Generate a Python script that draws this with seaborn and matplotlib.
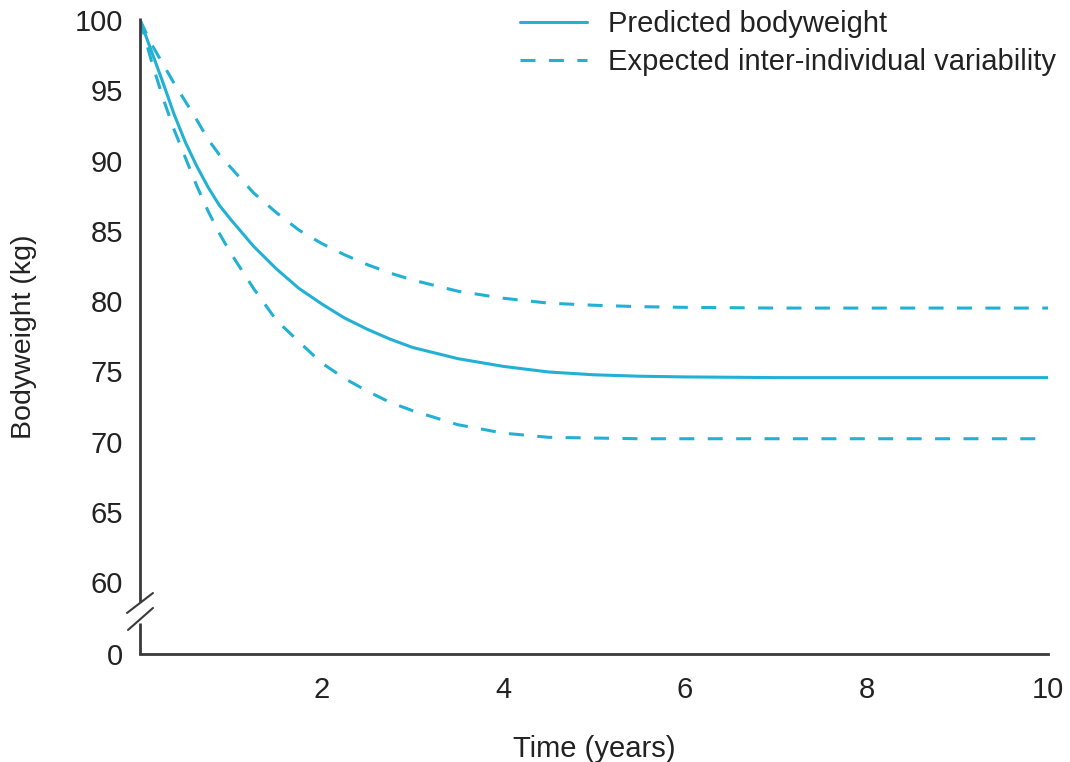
import numpy as np
import pandas as pd
import matplotlib
matplotlib.use("Agg")
import matplotlib.pyplot as plt
import seaborn as sns

# ---- data ----
time_years = [0, 0.125, 0.25, 0.375, 0.5, 0.625, 0.75, 0.875, 1.0, 1.25, 1.5, 1.75,
              2.0, 2.25, 2.5, 2.75, 3.0, 3.5, 4.0, 4.5, 5.0, 5.5, 6.0, 7.0, 8.0, 9.0, 10.0]
predicted = [100, 97.8, 95.6, 93.3, 91.3, 89.6, 88.1, 86.8, 85.8, 83.9, 82.3, 80.9,
             79.8, 78.8, 78.0, 77.3, 76.7, 75.9, 75.35, 74.95, 74.75, 74.65, 74.6, 74.55, 74.55, 74.55, 74.55]
upper_var = [100, 98.3, 96.9, 95.5, 94.2, 92.9, 91.5, 90.4, 89.5, 87.7, 86.3, 85.05,
             84.1, 83.3, 82.6, 82.0, 81.5, 80.7, 80.2, 79.85, 79.7, 79.6, 79.55, 79.5, 79.5, 79.5, 79.5]
lower_var = [100, 97.1, 94.5, 92.2, 90.2, 88.2, 86.4, 84.8, 83.4, 80.9, 78.65, 77.1,
             75.6, 74.5, 73.6, 72.8, 72.2, 71.2, 70.6, 70.3, 70.25, 70.2, 70.2, 70.2, 70.2, 70.2, 70.2]
x_ticks = [2, 4, 6, 8, 10]
y_ticks = [0, 60, 65, 70, 75, 80, 85, 90, 95, 100]
legend_labels = ["Predicted bodyweight", "Expected inter-individual variability"]
x_label = "Time (years)"
y_label = "Bodyweight (kg)"

df = pd.DataFrame({"t": time_years, "pred": predicted, "up": upper_var, "low": lower_var})

sns.set_theme(style="white")
plt.rcParams["font.family"] = ["Liberation Sans", "DejaVu Sans"]

CYAN = "#22B0D4"
AXC = "#3a3a3a"
TXT = "#222222"
LW = 2.2
DASH = (4.9, 4.4)

fig = plt.figure(figsize=(10.7, 7.62), dpi=100)
ax = fig.add_axes([140 / 1070, 1 - 654 / 762, 908 / 1070, 634 / 762])

# broken y axis: 0..60 compressed into a short stub
K = 5.12 / 60.0
def fwd(y):
    y = np.asarray(y, dtype=float)
    return np.where(y >= 60, y, 60 - (60 - y) * K)
def inv(v):
    v = np.asarray(v, dtype=float)
    return np.where(v >= 60, v, 60 - (60 - v) / K)
ax.set_yscale("function", functions=(fwd, inv))

sns.lineplot(data=df, x="t", y="pred", ax=ax, color=CYAN, lw=LW, label=legend_labels[0])
sns.lineplot(data=df, x="t", y="up", ax=ax, color=CYAN, lw=LW,
             linestyle=(0, DASH), label=legend_labels[1])
sns.lineplot(data=df, x="t", y="low", ax=ax, color=CYAN, lw=LW,
             linestyle=(0, DASH), label="_nolegend_")

ax.set_xlim(0, 10)
ax.set_ylim(0, 100)
ax.set_xticks(x_ticks)
ax.set_xticklabels([str(v) for v in x_ticks])
ax.set_yticks(y_ticks)
ax.set_yticklabels([str(v) for v in y_ticks])
ax.minorticks_off()
ax.tick_params(axis="both", length=0, labelsize=21, colors=TXT)
ax.tick_params(axis="y", pad=12)
ax.tick_params(axis="x", pad=16)
ax.set_xlabel(x_label, fontsize=21, color=TXT, labelpad=22)
ax.set_ylabel(y_label, fontsize=20.5, color=TXT)
ax.yaxis.set_label_coords(-0.1135, 0.5)

for s in ["top", "right", "left"]:
    ax.spines[s].set_visible(False)
ax.spines["bottom"].set_color(AXC)
ax.spines["bottom"].set_linewidth(2)

# left spine in two pieces with break marks
kw = dict(transform=ax.transAxes, color=AXC, lw=2, clip_on=False, solid_capstyle="butt")
ax.plot([0, 0], [0.082, 1.003], **kw)
ax.plot([0, 0], [0.0, 0.049], **kw)
ax.plot([-0.0143, 0.0143], [0.0647, 0.0962], color=AXC, lw=1.5, transform=ax.transAxes, clip_on=False)
ax.plot([-0.0132, 0.0143], [0.0379, 0.0726], color=AXC, lw=1.5, transform=ax.transAxes, clip_on=False)

leg = ax.legend(loc="upper left", bbox_to_anchor=(520 / 1070, 1 - 10 / 762),
                bbox_transform=fig.transFigure, frameon=False, fontsize=21,
                handlelength=2.3, handletextpad=0.7, borderpad=0, borderaxespad=0,
                labelspacing=0.35)
for t in leg.get_texts():
    t.set_color(TXT)

fig.savefig("out.png", dpi=100)
